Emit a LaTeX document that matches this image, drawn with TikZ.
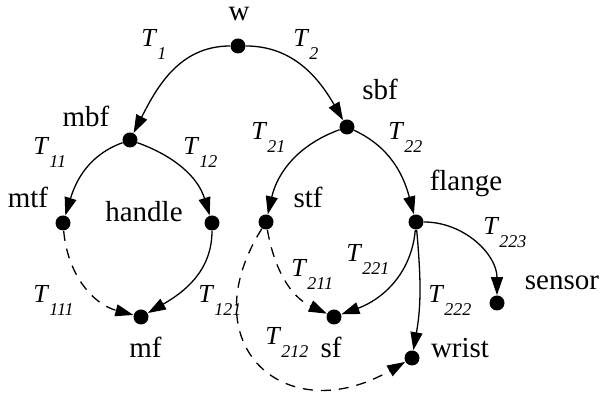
\documentclass[tikz,border=0pt]{standalone}
\usepackage{fontspec}
\setmainfont{Liberation Serif}
\usetikzlibrary{arrows.meta}

\newcommand{\Tsub}[1]{\textit{T}\raisebox{-6.5pt}{\fontsize{9}{11}\selectfont\textit{#1}}}

\begin{document}
\begin{tikzpicture}[
        x=0.5pt, y=0.5pt,
        dot/.style={circle, fill=black, inner sep=0pt, minimum size=7.5pt},
        txt/.style={inner sep=0pt, anchor=base, font=\fontsize{14.5}{17}\selectfont},
        tname/.style={inner sep=0pt, anchor=base west, font=\fontsize{13}{15}\selectfont},
        arrow/.style={-{Triangle[length=9pt,width=6pt]}, line width=0.65pt},
        dasharrow/.style={arrow, dash pattern=on 5pt off 4pt}
    ]
        \useasboundingbox (0,0) rectangle (601,-399);

        % frames
        \node[dot] (w) at (238,-46) {};
        \node[dot] (mbf) at (130,-140) {};
        \node[dot] (sbf) at (347,-127) {};
        \node[dot] (mtf) at (63,-223) {};
        \node[dot] (handle) at (212,-223) {};
        \node[dot] (mf) at (141,-317) {};
        \node[dot] (stf) at (266,-222) {};
        \node[dot] (flange) at (416,-222) {};
        \node[dot] (sf) at (334,-317) {};
        \node[dot] (wrist) at (412,-358) {};
        \node[dot] (sensor) at (497,-303) {};

        % frame names
        \node[txt] (lw) at (239,-21) {w};
        \node[txt] (lmbf) at (86,-127) {mbf};
        \node[txt] (lsbf) at (380,-100) {sbf};
        \node[txt] (lmtf) at (28,-208) {mtf};
        \node[txt] (lhandle) at (144,-222) {handle};
        \node[txt] (lmf) at (145.5,-358) {mf};
        \node[txt] (lstf) at (308,-208) {stf};
        \node[txt] (lflange) at (466,-191) {flange};
        \node[txt] (lsf) at (331,-358) {sf};
        \node[txt] (lwrist) at (460,-358) {wrist};
        \node[txt] (lsensor) at (562,-290) {sensor};

        % transforms
        \node[tname] (t1) at (141,-47) {\Tsub{1}};
        \node[tname] (t2) at (293,-47) {\Tsub{2}};
        \node[tname] (t11) at (33,-155) {\Tsub{11}};
        \node[tname] (t12) at (183,-155) {\Tsub{12}};
        \node[tname] (t21) at (251,-140) {\Tsub{21}};
        \node[tname] (t22) at (388,-140) {\Tsub{22}};
        \node[tname] (t111) at (33,-303) {\Tsub{111}};
        \node[tname] (t121) at (198,-303) {\Tsub{121}};
        \node[tname] (t211) at (291,-277) {\Tsub{211}};
        \node[tname] (t212) at (265,-345) {\Tsub{212}};
        \node[tname] (t221) at (346,-262) {\Tsub{221}};
        \node[tname] (t222) at (428,-303) {\Tsub{222}};
        \node[tname] (t223) at (483,-235) {\Tsub{223}};

        \draw[arrow] (w) to[out=180, in=63] (mbf);
        \draw[arrow] (w) to[out=0, in=120] (sbf);
        \draw[arrow] (mbf) to[out=200, in=73] (mtf);
        \draw[arrow] (mbf) to[out=-20, in=107] (handle);
        \draw[arrow] (sbf) to[out=200, in=77] (stf);
        \draw[arrow] (sbf) to[out=-25, in=105] (flange);
        \draw[dasharrow] (mtf) to[out=-85, in=165] (mf);
        \draw[arrow] (handle) to[out=-90, in=30] (mf);
        \draw[dasharrow] (stf) to[out=-80, in=155] (sf);
        \draw[dasharrow] (stf) to[out=-122, in=-150, looseness=1.8] (wrist);
        \draw[arrow] (flange) to[out=-95, in=20] (sf);
        \draw[arrow] (flange) to[out=-85, in=80] (wrist);
        \draw[arrow] (flange) to[out=0, in=90] (sensor);
    \end{tikzpicture}
\end{document}
